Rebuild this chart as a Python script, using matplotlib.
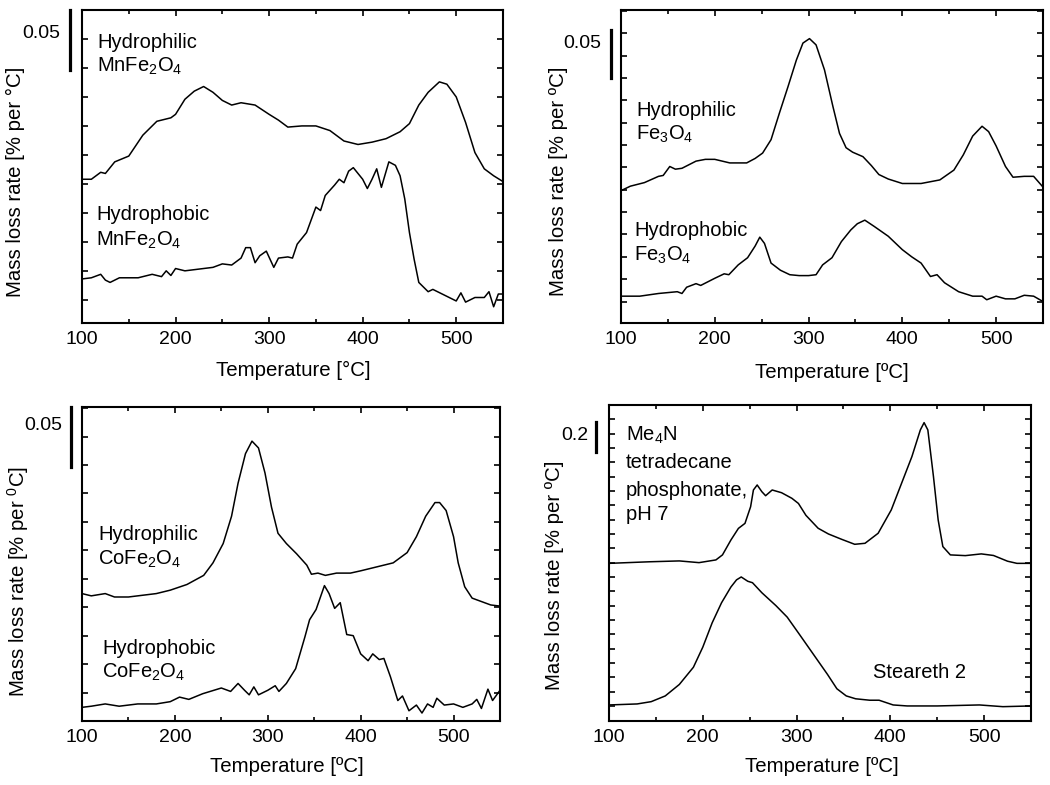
import matplotlib
matplotlib.use("Agg")
import matplotlib.pyplot as plt
import numpy as np

plt.rcParams['font.family'] = ['Liberation Sans', 'DejaVu Sans']
plt.rcParams['mathtext.fontset'] = 'custom'
plt.rcParams['mathtext.rm'] = 'Liberation Sans'
plt.rcParams['mathtext.it'] = 'Liberation Sans:italic'
plt.rcParams['mathtext.default'] = 'regular'

# ---- data (temperature in degC, mass loss rate in % per degC) ----
mn_phil_t = [100, 110, 120, 125, 135, 150, 165, 180, 195, 200, 210, 220, 230, 240, 250, 260,
             270, 285, 300, 310, 320, 335, 350, 365, 380, 395, 410, 425, 440, 450, 460, 470,
             482, 490, 500, 510, 520, 530, 540, 550]
mn_phil_r = [0.104, 0.104, 0.110, 0.109, 0.119, 0.124, 0.142, 0.154, 0.157, 0.160, 0.173, 0.180,
             0.184, 0.179, 0.172, 0.168, 0.170, 0.168, 0.160, 0.155, 0.149, 0.150, 0.150, 0.146,
             0.137, 0.134, 0.136, 0.139, 0.145, 0.152, 0.168, 0.179, 0.188, 0.186, 0.175, 0.153,
             0.127, 0.113, 0.107, 0.102]
mn_phob_t = [100, 110, 120, 125, 130, 140, 160, 175, 185, 190, 195, 200, 210, 220, 240, 250,
             260, 270, 275, 280, 285, 290, 297, 305, 310, 320, 325, 330, 340, 350, 355, 360,
             370, 375, 380, 385, 390, 400, 405, 410, 415, 420, 428, 435, 440, 445, 450, 455,
             460, 470, 475, 485, 495, 500, 505, 510, 520, 530, 535, 540, 545, 550]
mn_phob_r = [0.018, 0.019, 0.022, 0.017, 0.015, 0.019, 0.019, 0.022, 0.020, 0.025, 0.021, 0.027,
             0.025, 0.026, 0.028, 0.031, 0.030, 0.036, 0.045, 0.045, 0.032, 0.038, 0.042, 0.028,
             0.036, 0.037, 0.036, 0.048, 0.058, 0.080, 0.077, 0.090, 0.099, 0.104, 0.101, 0.111,
             0.114, 0.104, 0.096, 0.104, 0.113, 0.097, 0.119, 0.116, 0.107, 0.087, 0.058, 0.035,
             0.015, 0.007, 0.009, 0.005, 0.001, -0.001, 0.006, -0.002, 0.002, 0.002, 0.007,
             -0.006, 0.005, 0.005]

fe_phil_t = [100, 110, 125, 140, 145, 152, 158, 165, 180, 190, 200, 216, 234, 243, 251, 260,
             269, 278, 287, 294, 301, 308, 317, 326, 333, 340, 347, 358, 367, 375, 385, 400,
             420, 440, 455, 465, 475, 485, 492, 500, 510, 518, 530, 540, 550]
fe_phil_r = [0.124, 0.129, 0.133, 0.140, 0.141, 0.151, 0.148, 0.149, 0.157, 0.159, 0.159, 0.155,
             0.155, 0.160, 0.166, 0.181, 0.211, 0.240, 0.270, 0.289, 0.294, 0.287, 0.259, 0.218,
             0.188, 0.172, 0.167, 0.162, 0.152, 0.142, 0.137, 0.132, 0.132, 0.136, 0.147, 0.164,
             0.185, 0.196, 0.190, 0.174, 0.151, 0.139, 0.140, 0.140, 0.128]
fe_phob_t = [100, 120, 140, 160, 165, 170, 180, 185, 200, 210, 215, 225, 235, 243, 248, 253,
             260, 270, 280, 290, 300, 308, 315, 325, 335, 345, 352, 360, 370, 385, 400, 410,
             420, 430, 437, 445, 460, 475, 485, 490, 500, 510, 520, 530, 540, 550]
fe_phob_r = [0.006, 0.006, 0.009, 0.011, 0.009, 0.016, 0.020, 0.018, 0.026, 0.031, 0.030, 0.041,
             0.049, 0.062, 0.072, 0.065, 0.043, 0.035, 0.030, 0.029, 0.029, 0.030, 0.041, 0.049,
             0.067, 0.080, 0.087, 0.091, 0.084, 0.073, 0.058, 0.050, 0.043, 0.028, 0.030, 0.021,
             0.011, 0.006, 0.006, 0.002, 0.006, 0.003, 0.003, 0.007, 0.006, 0.000]

co_phil_t = [100, 110, 125, 135, 150, 160, 180, 195, 213, 231, 241, 252, 261, 268, 276, 283,
             290, 297, 304, 311, 320, 331, 342, 347, 354, 362, 374, 389, 400, 420, 435, 450,
             460, 470, 480, 485, 492, 500, 505, 512, 520, 530, 540, 550]
co_phil_r = [0.087, 0.085, 0.087, 0.084, 0.084, 0.085, 0.087, 0.090, 0.095, 0.103, 0.114, 0.131,
             0.155, 0.184, 0.210, 0.221, 0.215, 0.193, 0.163, 0.140, 0.131, 0.122, 0.112, 0.104,
             0.105, 0.103, 0.105, 0.105, 0.107, 0.111, 0.114, 0.123, 0.137, 0.155, 0.167, 0.167,
             0.160, 0.137, 0.114, 0.093, 0.083, 0.080, 0.077, 0.076]
co_phob_t = [100, 110, 125, 140, 160, 180, 195, 205, 215, 230, 250, 260, 268, 275, 280, 285,
             290, 300, 308, 312, 320, 330, 340, 345, 352, 358, 361, 366, 372, 378, 385, 392,
             400, 408, 413, 420, 425, 432, 440, 445, 452, 460, 466, 472, 478, 482, 490, 500,
             510, 520, 525, 530, 537, 542, 550]
co_phob_r = [-0.013, -0.012, -0.010, -0.012, -0.010, -0.010, -0.008, -0.004, -0.006, -0.001,
             0.004, 0.001, 0.008, 0.002, -0.002, 0.005, -0.002, 0.002, 0.006, 0.001, 0.008,
             0.021, 0.049, 0.064, 0.073, 0.087, 0.094, 0.087, 0.074, 0.079, 0.051, 0.050, 0.034,
             0.028, 0.034, 0.029, 0.030, 0.014, -0.007, -0.003, -0.016, -0.011, -0.018, -0.010,
             -0.013, -0.005, -0.011, -0.010, -0.013, -0.010, -0.006, -0.014, 0.003, -0.007, 0.002]

me4n_t = [100, 143, 175, 196, 214, 221, 230, 238, 245, 251, 254, 258, 263, 267, 274, 284, 295,
          302, 310, 323, 334, 348, 362, 373, 387, 401, 412, 423, 432, 436, 440, 446, 451, 456,
          464, 480, 497, 510, 525, 535, 550]
me4n_r = [0.995, 1.006, 1.012, 1.000, 1.019, 1.054, 1.158, 1.239, 1.274, 1.390, 1.507, 1.542,
          1.495, 1.467, 1.507, 1.488, 1.449, 1.413, 1.33, 1.240, 1.200, 1.163, 1.128, 1.135,
          1.205, 1.368, 1.554, 1.740, 1.926, 1.977, 1.926, 1.600, 1.298, 1.112, 1.054, 1.049,
          1.061, 1.05, 1.01, 0.995, 0.995]
ster_t = [100, 130, 145, 160, 175, 190, 200, 210, 220, 230, 236, 241, 248, 253, 263, 278, 290,
          303, 318, 333, 343, 353, 363, 378, 388, 403, 418, 450, 495, 520, 550]
ster_r = [0.007, 0.014, 0.03, 0.07, 0.15, 0.27, 0.41, 0.58, 0.72, 0.83, 0.88, 0.90, 0.87, 0.86,
          0.79, 0.70, 0.62, 0.50, 0.36, 0.22, 0.12, 0.07, 0.05, 0.04, 0.04, 0.007, 0.0, 0.0,
          0.007, -0.005, 0.0]

W, H = 1050, 785
fig = plt.figure(figsize=(W / 100, H / 100), dpi=100)


def px_axes(l, t, r, b):
    return fig.add_axes([l / W, 1 - b / H, (r - l) / W, (b - t) / H])


def ftext(x, y, s, **kw):
    kw.setdefault('fontsize', 14.5)
    kw.setdefault('va', 'center')
    fig.text(x / W, 1 - y / H, s, **kw)


def style(ax, ylim, ystep):
    ax.set_xlim(100, 550)
    ax.set_ylim(*ylim)
    ax.set_xticks([100, 200, 300, 400, 500])
    ax.set_xticks(np.arange(150, 551, 100), minor=True)
    ax.set_yticks(np.arange(0, ylim[1], ystep))
    ax.set_yticklabels([])
    ax.tick_params(which='both', direction='in', width=1.2,
                   left=True, right=True, top=True, labelsize=14, pad=6)
    ax.tick_params(axis='x', which='major', length=4.5)
    ax.tick_params(axis='x', which='minor', length=3)
    ax.tick_params(axis='y', length=4.5)
    for sp in ax.spines.values():
        sp.set_linewidth(1.5)


def scale_bar(x, y0, y1):
    fig.add_artist(plt.Line2D([x / W, x / W], [1 - y0 / H, 1 - y1 / H],
                              transform=fig.transFigure, color='black', lw=2.3))


LBL = 14.7

# panel 1: MnFe2O4
ax1 = px_axes(82, 10, 503, 323)
ax1.plot(mn_phil_t, mn_phil_r, color='black', lw=1.1)
ax1.plot(mn_phob_t, mn_phob_r, color='black', lw=1.1)
style(ax1, (-0.02, 0.25), 0.025)
scale_bar(70, 10, 70)
ftext(60, 33, '0.05', ha='right', fontsize=14)
ftext(97, 42, 'Hydrophilic')
ftext(97, 66, 'MnFe$_2$O$_4$')
ftext(96, 215, 'Hydrophobic')
ftext(96, 240, 'MnFe$_2$O$_4$')
ftext(15, 182, 'Mass loss rate [% per °C]', rotation=90, ha='center', fontsize=LBL)
ftext(293, 370, 'Temperature [°C]', ha='center', fontsize=LBL)

# panel 2: Fe3O4
ax2 = px_axes(621, 10, 1043, 323)
ax2.plot(fe_phil_t, fe_phil_r, color='black', lw=1.1)
ax2.plot(fe_phob_t, fe_phob_r, color='black', lw=1.1)
style(ax2, (-0.024, 0.326), 0.025)
scale_bar(611, 30, 78)
ftext(601, 43, '0.05', ha='right', fontsize=14)
ftext(636, 110, 'Hydrophilic')
ftext(636, 134, 'Fe$_3$O$_4$')
ftext(634, 230, 'Hydrophobic')
ftext(634, 255, 'Fe$_3$O$_4$')
ftext(559, 181, 'Mass loss rate [% per ºC]', rotation=90, ha='center', fontsize=LBL)
ftext(832, 372, 'Temperature [ºC]', ha='center', fontsize=LBL)

# panel 3: CoFe2O4
ax3 = px_axes(82, 407, 500, 721)
ax3.plot(co_phil_t, co_phil_r, color='black', lw=1.1)
ax3.plot(co_phob_t, co_phob_r, color='black', lw=1.1)
style(ax3, (-0.025, 0.251), 0.025)
scale_bar(71, 407, 467)
ftext(62, 425, '0.05', ha='right', fontsize=14)
ftext(98, 535, 'Hydrophilic')
ftext(98, 559, 'CoFe$_2$O$_4$')
ftext(102, 648, 'Hydrophobic')
ftext(102, 672, 'CoFe$_2$O$_4$')
ftext(18, 581, 'Mass loss rate [% per $^0$C]', rotation=90, ha='center', fontsize=LBL)
ftext(287, 767, 'Temperature [ºC]', ha='center', fontsize=LBL)

# panel 4: surfactants
ax4 = px_axes(609, 405, 1031, 721)
ax4.plot(me4n_t, me4n_r, color='black', lw=1.1)
ax4.plot(ster_t, ster_r, color='black', lw=1.1)
style(ax4, (-0.105, 2.1), 0.1)
scale_bar(596, 422, 452)
ftext(588, 435, '0.2', ha='right', fontsize=14)
ftext(626, 435, 'Me$_4$N')
ftext(626, 463, 'tetradecane')
ftext(626, 490, 'phosphonate,')
ftext(626, 514, 'pH 7')
ftext(873, 673, 'Steareth 2')
ftext(555, 575, 'Mass loss rate [% per ºC]', rotation=90, ha='center', fontsize=LBL)
ftext(822, 767, 'Temperature [ºC]', ha='center', fontsize=LBL)

fig.savefig('out.png', dpi=100)
